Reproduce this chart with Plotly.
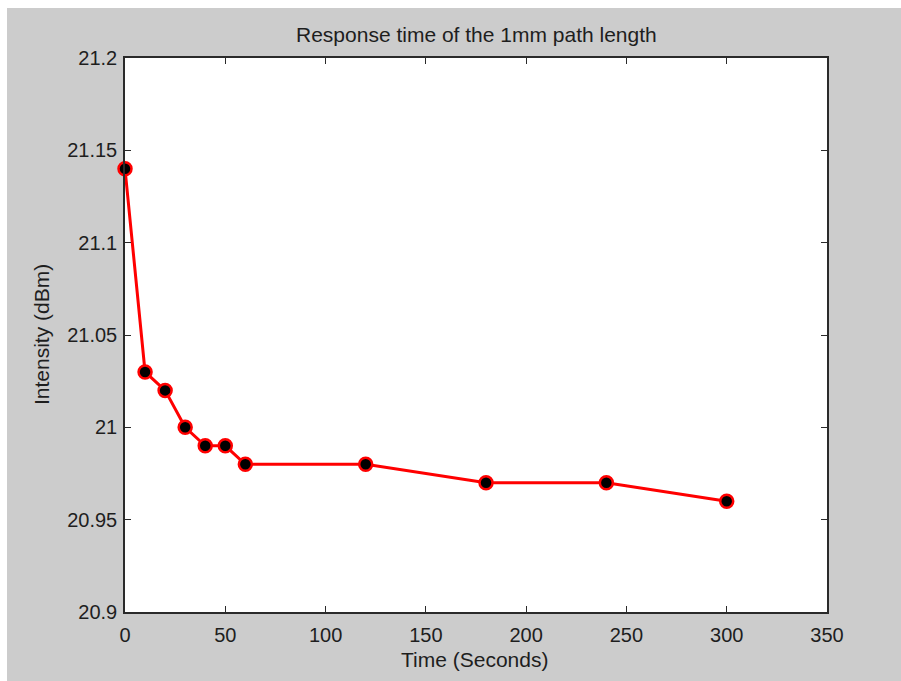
import plotly.graph_objects as go

# Measured response of the 1 mm path length cell
time_s = [0, 10, 20, 30, 40, 50, 60, 120, 180, 240, 300]
intensity_dbm = [21.14, 21.03, 21.02, 21.00, 20.99, 20.99, 20.98, 20.98, 20.97, 20.97, 20.96]

x_ticks = [0, 50, 100, 150, 200, 250, 300, 350]
y_ticks = [20.9, 20.95, 21.0, 21.05, 21.1, 21.15, 21.2]
y_tick_text = ["20.9", "20.95", "21", "21.05", "21.1", "21.15", "21.2"]

FONT = "Liberation Sans, Arial, sans-serif"
TEXT = "#1e1e1e"
AXIS = "#2a2a2a"

W, H = 901, 681
ML, MR, MT, MB = 125, 74, 58, 69
PW, PH = W - ML - MR, H - MT - MB


def px_x(p):
    return (p - ML) / PW


def px_y(p):
    return (H - MB - p) / PH


fig = go.Figure()
fig.add_trace(go.Scatter(
    x=time_s, y=intensity_dbm, mode="lines+markers",
    line=dict(color="#ff0000", width=3),
    marker=dict(symbol="circle", size=13, color="#000000",
                line=dict(color="#ff0000", width=2.5)),
    showlegend=False, cliponaxis=False,
))

axis_common = dict(
    showgrid=False, zeroline=False, showline=True, mirror="ticks",
    linecolor=AXIS, linewidth=1.5, ticks="inside", ticklen=6,
    tickwidth=1, tickcolor=AXIS,
    tickfont=dict(family=FONT, size=20, color=TEXT),
)

fig.update_xaxes(range=[0, 350], tickmode="array", tickvals=x_ticks,
                 ticktext=[str(v) for v in x_ticks], ticklabelstandoff=4,
                 **axis_common)
fig.update_yaxes(range=[20.9, 21.2], tickmode="array", tickvals=y_ticks,
                 ticktext=y_tick_text, ticklabelstandoff=2, **axis_common)

# Window frame: grey figure with a thin white border at top and left
fig.add_shape(type="rect", xref="paper", yref="paper",
              x0=px_x(-20), x1=px_x(W + 20), y0=px_y(8), y1=px_y(-20),
              fillcolor="#ffffff", line=dict(width=0), layer="below")
fig.add_shape(type="rect", xref="paper", yref="paper",
              x0=px_x(-20), x1=px_x(7), y0=px_y(H + 20), y1=px_y(-20),
              fillcolor="#ffffff", line=dict(width=0), layer="below")

fig.add_annotation(text="Response time of the 1mm path length",
                   xref="paper", yref="paper", x=0.5, y=px_y(34),
                   showarrow=False, xanchor="center", yanchor="middle",
                   font=dict(family=FONT, size=21, color=TEXT))
fig.add_annotation(text="Time (Seconds)",
                   xref="paper", yref="paper", x=px_x(474), y=px_y(659),
                   showarrow=False, xanchor="center", yanchor="middle",
                   font=dict(family=FONT, size=21, color=TEXT))
fig.add_annotation(text="Intensity (dBm)", textangle=-90,
                   xref="paper", yref="paper", x=px_x(41), y=0.5,
                   showarrow=False, xanchor="center", yanchor="middle",
                   font=dict(family=FONT, size=21, color=TEXT))

fig.update_layout(
    width=W, height=H,
    margin=dict(l=ML, r=MR, t=MT, b=MB, pad=0),
    paper_bgcolor="#cccccc", plot_bgcolor="#ffffff",
)

fig.write_html(
    "out.html", config={"displayModeBar": False},
    post_script="document.body.style.margin='0';"
                "document.body.style.background='#cccccc';"
                "document.documentElement.style.background='#cccccc';",
)
